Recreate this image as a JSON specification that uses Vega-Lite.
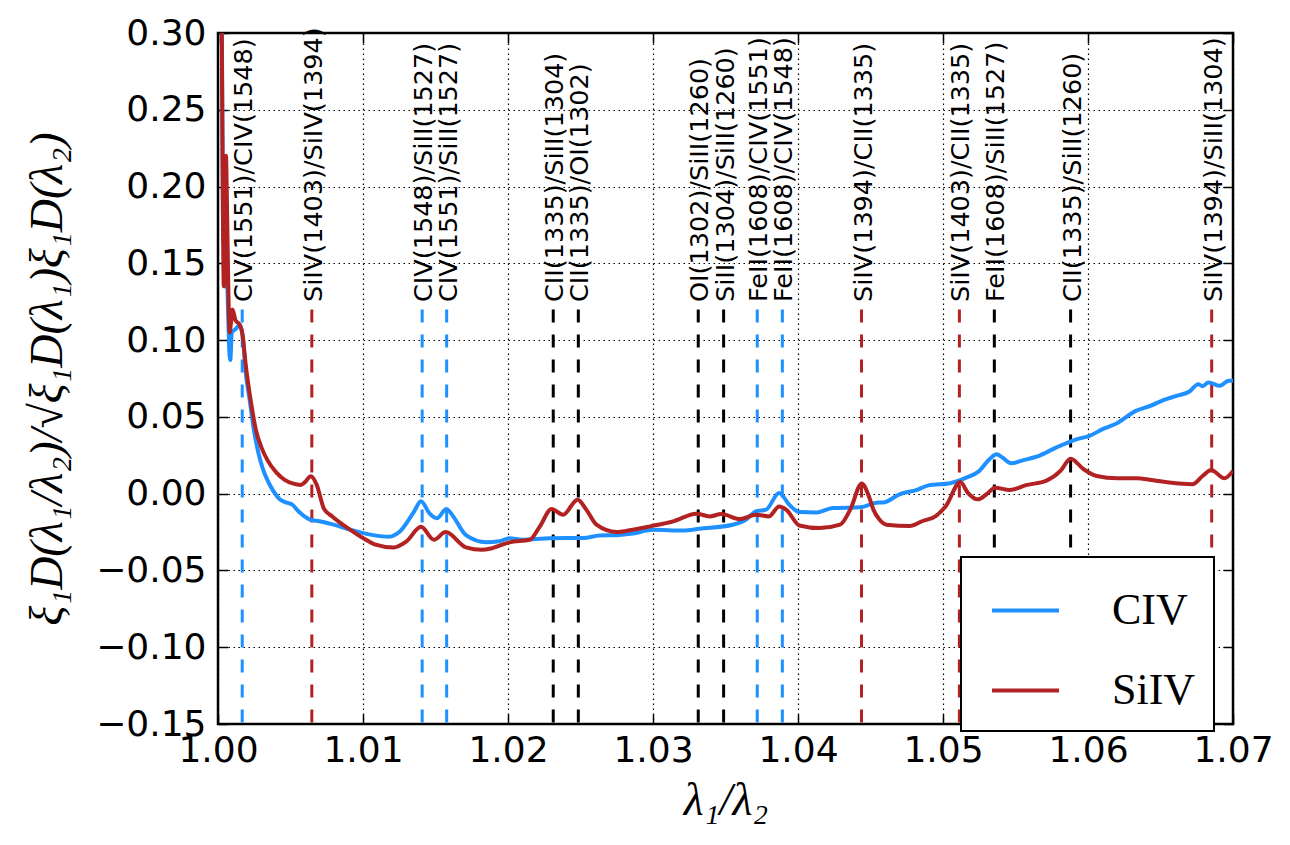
{
  "$schema": "https://vega.github.io/schema/vega-lite/v6.json",
  "width": 1015,
  "height": 691,
  "autosize": {"type": "none"},
  "padding": {"left": 218, "top": 33, "right": 57, "bottom": 121},
  "background": "white",
  "config": {
    "view": {"stroke": "black", "strokeWidth": 2.5},
    "axis": {
      "domain": false,
      "labelFont": "DejaVu Sans",
      "labelFontSize": 36,
      "labelColor": "black",
      "tickColor": "black",
      "tickWidth": 1.5,
      "tickSize": -10,
      "gridColor": "black",
      "gridDash": [1.5, 3.5],
      "gridWidth": 1.2,
      "gridOpacity": 1,
      "labelFlush": false,
      "labelOverlap": false,
      "titleFont": "Liberation Serif",
      "titleFontStyle": "italic",
      "titleFontWeight": "normal",
      "titleColor": "black"
    },
    "legend": {
      "orient": "none",
      "legendX": 743,
      "legendY": 524,
      "strokeColor": "black",
      "strokeWidth": 2,
      "fillColor": "white",
      "padding": 18,
      "symbolType": "stroke",
      "symbolSize": 4489,
      "symbolStrokeWidth": 4,
      "symbolOffset": 11,
      "labelFont": "Liberation Serif",
      "labelFontSize": 44,
      "labelColor": "black",
      "labelOffset": 51,
      "rowPadding": 22,
      "labelLimit": 300
    }
  },
  "datasets": {
    "curves": [
      {"series": "CIV", "x": 1.0002, "y": 0.40},
      {"series": "CIV", "x": 1.0003, "y": 0.25},
      {"series": "CIV", "x": 1.00035, "y": 0.165},
      {"series": "CIV", "x": 1.00045, "y": 0.162},
      {"series": "CIV", "x": 1.0005, "y": 0.135},
      {"series": "CIV", "x": 1.0006, "y": 0.14},
      {"series": "CIV", "x": 1.0008, "y": 0.09},
      {"series": "CIV", "x": 1.00085, "y": 0.087},
      {"series": "CIV", "x": 1.00095, "y": 0.105},
      {"series": "CIV", "x": 1.0012, "y": 0.107},
      {"series": "CIV", "x": 1.0015, "y": 0.110},
      {"series": "CIV", "x": 1.0017, "y": 0.103},
      {"series": "CIV", "x": 1.0019, "y": 0.08},
      {"series": "CIV", "x": 1.0022, "y": 0.06},
      {"series": "CIV", "x": 1.0025, "y": 0.04},
      {"series": "CIV", "x": 1.0028, "y": 0.026},
      {"series": "CIV", "x": 1.0031, "y": 0.016},
      {"series": "CIV", "x": 1.0034, "y": 0.009},
      {"series": "CIV", "x": 1.0038, "y": 0.002},
      {"series": "CIV", "x": 1.0043, "y": -0.004},
      {"series": "CIV", "x": 1.0048, "y": -0.006},
      {"series": "CIV", "x": 1.0051, "y": -0.007},
      {"series": "CIV", "x": 1.0056, "y": -0.012},
      {"series": "CIV", "x": 1.0063, "y": -0.0167},
      {"series": "CIV", "x": 1.007, "y": -0.018},
      {"series": "CIV", "x": 1.0079, "y": -0.020},
      {"series": "CIV", "x": 1.0091, "y": -0.0234},
      {"series": "CIV", "x": 1.0107, "y": -0.027},
      {"series": "CIV", "x": 1.0118, "y": -0.028},
      {"series": "CIV", "x": 1.0125, "y": -0.025},
      {"series": "CIV", "x": 1.0135, "y": -0.012},
      {"series": "CIV", "x": 1.0140, "y": -0.005},
      {"series": "CIV", "x": 1.0146, "y": -0.013},
      {"series": "CIV", "x": 1.0151, "y": -0.016},
      {"series": "CIV", "x": 1.01575, "y": -0.010},
      {"series": "CIV", "x": 1.0162, "y": -0.0145},
      {"series": "CIV", "x": 1.0171, "y": -0.027},
      {"series": "CIV", "x": 1.0185, "y": -0.0316},
      {"series": "CIV", "x": 1.0194, "y": -0.031},
      {"series": "CIV", "x": 1.0201, "y": -0.029},
      {"series": "CIV", "x": 1.0210, "y": -0.030},
      {"series": "CIV", "x": 1.0229, "y": -0.029},
      {"series": "CIV", "x": 1.0252, "y": -0.0289},
      {"series": "CIV", "x": 1.0263, "y": -0.0272},
      {"series": "CIV", "x": 1.0275, "y": -0.027},
      {"series": "CIV", "x": 1.0286, "y": -0.026},
      {"series": "CIV", "x": 1.0300, "y": -0.0235},
      {"series": "CIV", "x": 1.0321, "y": -0.024},
      {"series": "CIV", "x": 1.0332, "y": -0.0228},
      {"series": "CIV", "x": 1.0355, "y": -0.0202},
      {"series": "CIV", "x": 1.0364, "y": -0.017},
      {"series": "CIV", "x": 1.0371, "y": -0.0115},
      {"series": "CIV", "x": 1.0378, "y": -0.0104},
      {"series": "CIV", "x": 1.0387, "y": 0.0004},
      {"series": "CIV", "x": 1.0394, "y": -0.0072},
      {"series": "CIV", "x": 1.0401, "y": -0.012},
      {"series": "CIV", "x": 1.0413, "y": -0.0122},
      {"series": "CIV", "x": 1.0424, "y": -0.0093},
      {"series": "CIV", "x": 1.0443, "y": -0.0089},
      {"series": "CIV", "x": 1.0454, "y": -0.0059},
      {"series": "CIV", "x": 1.0459, "y": -0.0057},
      {"series": "CIV", "x": 1.0470, "y": -0.0004},
      {"series": "CIV", "x": 1.0482, "y": 0.0025},
      {"series": "CIV", "x": 1.0490, "y": 0.0054},
      {"series": "CIV", "x": 1.0505, "y": 0.0068},
      {"series": "CIV", "x": 1.0516, "y": 0.0104},
      {"series": "CIV", "x": 1.0525, "y": 0.0148},
      {"series": "CIV", "x": 1.0532, "y": 0.0224},
      {"series": "CIV", "x": 1.0537, "y": 0.0257},
      {"series": "CIV", "x": 1.0541, "y": 0.0235},
      {"series": "CIV", "x": 1.0547, "y": 0.0198},
      {"series": "CIV", "x": 1.0555, "y": 0.0217},
      {"series": "CIV", "x": 1.0567, "y": 0.025},
      {"series": "CIV", "x": 1.0578, "y": 0.030},
      {"series": "CIV", "x": 1.0592, "y": 0.0354},
      {"series": "CIV", "x": 1.0601, "y": 0.0376},
      {"series": "CIV", "x": 1.0610, "y": 0.042},
      {"series": "CIV", "x": 1.0620, "y": 0.0459},
      {"series": "CIV", "x": 1.0633, "y": 0.0539},
      {"series": "CIV", "x": 1.0643, "y": 0.0572},
      {"series": "CIV", "x": 1.0652, "y": 0.0609},
      {"series": "CIV", "x": 1.0661, "y": 0.0637},
      {"series": "CIV", "x": 1.0670, "y": 0.0665},
      {"series": "CIV", "x": 1.0676, "y": 0.0713},
      {"series": "CIV", "x": 1.0679, "y": 0.070},
      {"series": "CIV", "x": 1.0683, "y": 0.0724},
      {"series": "CIV", "x": 1.0691, "y": 0.0702},
      {"series": "CIV", "x": 1.0697, "y": 0.0735},
      {"series": "CIV", "x": 1.0700, "y": 0.0735},
      {"series": "SiIV", "x": 1.0002, "y": 0.40},
      {"series": "SiIV", "x": 1.0003, "y": 0.24},
      {"series": "SiIV", "x": 1.0004, "y": 0.135},
      {"series": "SiIV", "x": 1.00048, "y": 0.15},
      {"series": "SiIV", "x": 1.00055, "y": 0.22},
      {"series": "SiIV", "x": 1.0006, "y": 0.20},
      {"series": "SiIV", "x": 1.0007, "y": 0.14},
      {"series": "SiIV", "x": 1.0008, "y": 0.105},
      {"series": "SiIV", "x": 1.0009, "y": 0.112},
      {"series": "SiIV", "x": 1.0010, "y": 0.120},
      {"series": "SiIV", "x": 1.0012, "y": 0.113},
      {"series": "SiIV", "x": 1.0015, "y": 0.110},
      {"series": "SiIV", "x": 1.0017, "y": 0.103},
      {"series": "SiIV", "x": 1.0019, "y": 0.085},
      {"series": "SiIV", "x": 1.0023, "y": 0.058},
      {"series": "SiIV", "x": 1.0026, "y": 0.042},
      {"series": "SiIV", "x": 1.0030, "y": 0.030},
      {"series": "SiIV", "x": 1.0034, "y": 0.022},
      {"series": "SiIV", "x": 1.0040, "y": 0.014},
      {"series": "SiIV", "x": 1.0046, "y": 0.009},
      {"series": "SiIV", "x": 1.0052, "y": 0.0065},
      {"series": "SiIV", "x": 1.0057, "y": 0.0057},
      {"series": "SiIV", "x": 1.0060, "y": 0.0075},
      {"series": "SiIV", "x": 1.0064, "y": 0.0114},
      {"series": "SiIV", "x": 1.0068, "y": 0.006},
      {"series": "SiIV", "x": 1.0073, "y": -0.0097},
      {"series": "SiIV", "x": 1.0079, "y": -0.015},
      {"series": "SiIV", "x": 1.0091, "y": -0.0234},
      {"series": "SiIV", "x": 1.0102, "y": -0.030},
      {"series": "SiIV", "x": 1.0108, "y": -0.033},
      {"series": "SiIV", "x": 1.0121, "y": -0.035},
      {"series": "SiIV", "x": 1.0130, "y": -0.031},
      {"series": "SiIV", "x": 1.0140, "y": -0.0216},
      {"series": "SiIV", "x": 1.0149, "y": -0.030},
      {"series": "SiIV", "x": 1.0157, "y": -0.025},
      {"series": "SiIV", "x": 1.0171, "y": -0.035},
      {"series": "SiIV", "x": 1.0182, "y": -0.0366},
      {"series": "SiIV", "x": 1.0189, "y": -0.0355},
      {"series": "SiIV", "x": 1.0201, "y": -0.0317},
      {"series": "SiIV", "x": 1.0215, "y": -0.030},
      {"series": "SiIV", "x": 1.0222, "y": -0.0213},
      {"series": "SiIV", "x": 1.0230, "y": -0.010},
      {"series": "SiIV", "x": 1.0238, "y": -0.0137},
      {"series": "SiIV", "x": 1.0248, "y": -0.0039},
      {"series": "SiIV", "x": 1.0254, "y": -0.0104},
      {"series": "SiIV", "x": 1.0261, "y": -0.0202},
      {"series": "SiIV", "x": 1.0275, "y": -0.025},
      {"series": "SiIV", "x": 1.0286, "y": -0.0235},
      {"series": "SiIV", "x": 1.0298, "y": -0.0213},
      {"series": "SiIV", "x": 1.0314, "y": -0.018},
      {"series": "SiIV", "x": 1.0330, "y": -0.013},
      {"series": "SiIV", "x": 1.0339, "y": -0.0148},
      {"series": "SiIV", "x": 1.0347, "y": -0.0133},
      {"series": "SiIV", "x": 1.0360, "y": -0.0165},
      {"series": "SiIV", "x": 1.0371, "y": -0.0137},
      {"series": "SiIV", "x": 1.0380, "y": -0.0148},
      {"series": "SiIV", "x": 1.0387, "y": -0.0083},
      {"series": "SiIV", "x": 1.0392, "y": -0.0105},
      {"series": "SiIV", "x": 1.0401, "y": -0.0207},
      {"series": "SiIV", "x": 1.0415, "y": -0.0224},
      {"series": "SiIV", "x": 1.0429, "y": -0.0202},
      {"series": "SiIV", "x": 1.0436, "y": -0.0104},
      {"series": "SiIV", "x": 1.0444, "y": 0.0067},
      {"series": "SiIV", "x": 1.0449, "y": -0.002},
      {"series": "SiIV", "x": 1.0452, "y": -0.0104},
      {"series": "SiIV", "x": 1.0456, "y": -0.0167},
      {"series": "SiIV", "x": 1.0461, "y": -0.0202},
      {"series": "SiIV", "x": 1.0477, "y": -0.0211},
      {"series": "SiIV", "x": 1.0486, "y": -0.0178},
      {"series": "SiIV", "x": 1.0495, "y": -0.0146},
      {"series": "SiIV", "x": 1.0502, "y": -0.008},
      {"series": "SiIV", "x": 1.0512, "y": 0.0076},
      {"series": "SiIV", "x": 1.0517, "y": 0.0007},
      {"series": "SiIV", "x": 1.0524, "y": -0.0037},
      {"series": "SiIV", "x": 1.0530, "y": -0.0004},
      {"series": "SiIV", "x": 1.0536, "y": 0.0039},
      {"series": "SiIV", "x": 1.0546, "y": 0.0024},
      {"series": "SiIV", "x": 1.0558, "y": 0.0057},
      {"series": "SiIV", "x": 1.0571, "y": 0.0083},
      {"series": "SiIV", "x": 1.0581, "y": 0.0148},
      {"series": "SiIV", "x": 1.0588, "y": 0.0228},
      {"series": "SiIV", "x": 1.0597, "y": 0.0159},
      {"series": "SiIV", "x": 1.0606, "y": 0.0115},
      {"series": "SiIV", "x": 1.0620, "y": 0.010},
      {"series": "SiIV", "x": 1.0633, "y": 0.010},
      {"series": "SiIV", "x": 1.0645, "y": 0.0087},
      {"series": "SiIV", "x": 1.0656, "y": 0.0072},
      {"series": "SiIV", "x": 1.0672, "y": 0.0061},
      {"series": "SiIV", "x": 1.0679, "y": 0.0115},
      {"series": "SiIV", "x": 1.0685, "y": 0.0154},
      {"series": "SiIV", "x": 1.0694, "y": 0.010},
      {"series": "SiIV", "x": 1.0700, "y": 0.0148}
    ],
    "lines": [
      {"x": 1.00167, "label": "CIV(1551)/CIV(1548)", "color": "#1E90FF"},
      {"x": 1.00647, "label": "SiIV(1403)/SiIV(1394)", "color": "#B22222"},
      {"x": 1.01408, "label": "CIV(1548)/SiII(1527)", "color": "#1E90FF"},
      {"x": 1.01577, "label": "CIV(1551)/SiII(1527)", "color": "#1E90FF"},
      {"x": 1.02312, "label": "CII(1335)/SiII(1304)", "color": "black"},
      {"x": 1.02485, "label": "CII(1335)/OI(1302)", "color": "black"},
      {"x": 1.03312, "label": "OI(1302)/SiII(1260)", "color": "black"},
      {"x": 1.03487, "label": "SiII(1304)/SiII(1260)", "color": "black"},
      {"x": 1.03719, "label": "FeII(1608)/CIV(1551)", "color": "#1E90FF"},
      {"x": 1.03892, "label": "FeII(1608)/CIV(1548)", "color": "#1E90FF"},
      {"x": 1.04438, "label": "SiIV(1394)/CII(1335)", "color": "#B22222"},
      {"x": 1.05113, "label": "SiIV(1403)/CII(1335)", "color": "#B22222"},
      {"x": 1.05354, "label": "FeII(1608)/SiII(1527)", "color": "black"},
      {"x": 1.0588, "label": "CII(1335)/SiII(1260)", "color": "black"},
      {"x": 1.06853, "label": "SiIV(1394)/SiII(1304)", "color": "#B22222"}
    ]
  },
  "layer": [
    {
      "data": {"name": "lines"},
      "mark": {"type": "rule", "strokeDash": [13, 12], "strokeWidth": 3},
      "encoding": {
        "x": {
          "field": "x",
          "type": "quantitative",
          "scale": {"domain": [1.0, 1.07], "nice": false, "zero": false},
          "axis": {"orient": "top", "labels": false, "grid": false, "title": null, "values": [1.0, 1.01, 1.02, 1.03, 1.04, 1.05, 1.06, 1.07]}
        },
        "y": {
          "datum": 0.12,
          "type": "quantitative",
          "scale": {"domain": [-0.15, 0.3], "nice": false, "zero": false},
          "axis": {"orient": "right", "labels": false, "grid": false, "title": null, "values": [-0.15, -0.1, -0.05, 0, 0.05, 0.1, 0.15, 0.2, 0.25, 0.3]}
        },
        "y2": {"datum": -0.15},
        "color": {"field": "color", "type": "nominal", "scale": null}
      }
    },
    {
      "data": {"name": "lines"},
      "mark": {"type": "text", "angle": 270, "align": "left", "baseline": "middle", "font": "DejaVu Sans", "fontSize": 25.5, "color": "black", "dy": 2},
      "encoding": {
        "x": {"field": "x", "type": "quantitative", "axis": null, "scale": {"domain": [1.0, 1.07], "nice": false, "zero": false}},
        "y": {"datum": 0.1248, "type": "quantitative", "axis": null, "scale": {"domain": [-0.15, 0.3], "nice": false, "zero": false}},
        "text": {"field": "label"}
      }
    },
    {
      "data": {"name": "curves"},
      "mark": {"type": "line", "strokeWidth": 4, "clip": true, "interpolate": "monotone"},
      "encoding": {
        "x": {
          "field": "x",
          "type": "quantitative",
          "scale": {"domain": [1.0, 1.07], "nice": false, "zero": false},
          "axis": {
            "orient": "bottom",
            "values": [1.0, 1.01, 1.02, 1.03, 1.04, 1.05, 1.06, 1.07],
            "format": ".2f",
            "grid": true,
            "labelPadding": 19,
            "title": "λ₁/λ₂",
            "titleFontSize": 46,
            "titlePadding": 10
          }
        },
        "y": {
          "field": "y",
          "type": "quantitative",
          "scale": {"domain": [-0.15, 0.3], "nice": false, "zero": false},
          "axis": {
            "orient": "left",
            "values": [-0.15, -0.1, -0.05, 0, 0.05, 0.1, 0.15, 0.2, 0.25, 0.3],
            "format": ".2f",
            "grid": true,
            "labelPadding": 22,
            "title": "ξ₁D(λ₁/λ₂)/√ξ₁D(λ₁)ξ₁D(λ₂)",
            "titleFontSize": 46,
            "titlePadding": 24
          }
        },
        "color": {
          "field": "series",
          "type": "nominal",
          "scale": {"domain": ["CIV", "SiIV"], "range": ["#1E90FF", "#B22222"]},
          "legend": {"title": null}
        }
      }
    }
  ],
  "resolve": {"axis": {"x": "independent", "y": "independent"}}
}
